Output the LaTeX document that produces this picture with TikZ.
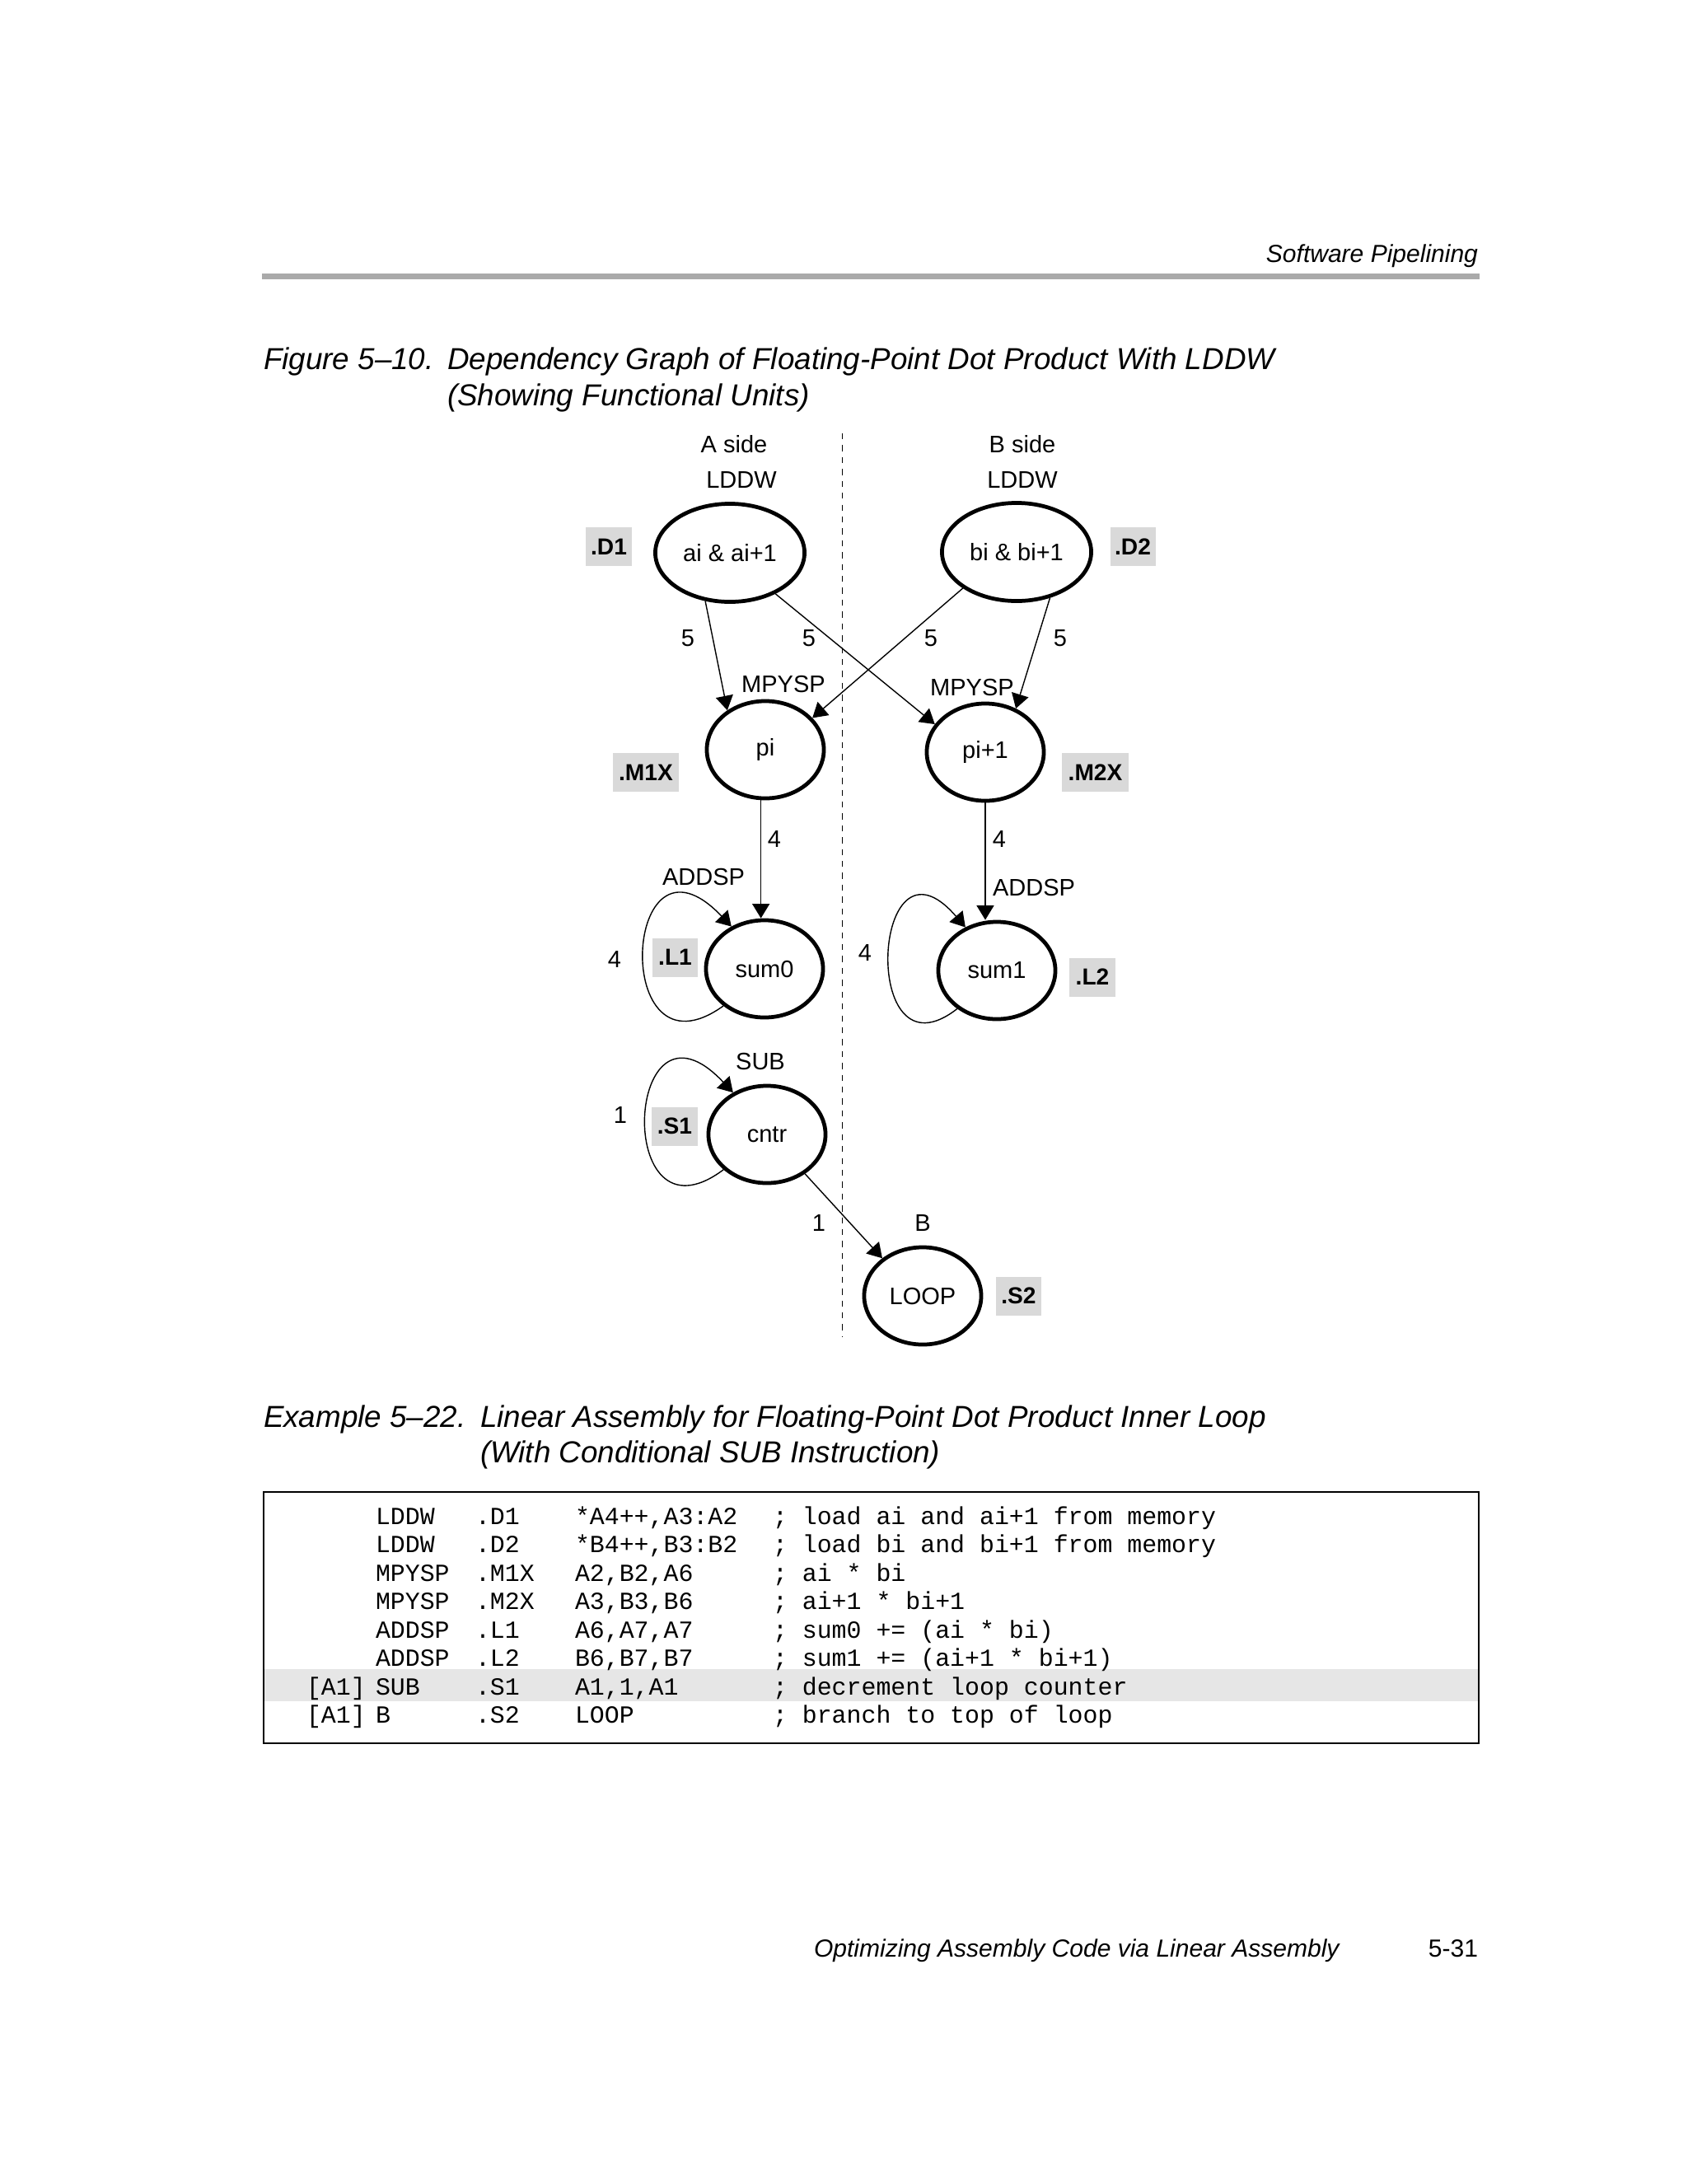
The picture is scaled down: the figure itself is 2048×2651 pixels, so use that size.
\documentclass[tikz,border=0pt]{standalone}
\usepackage{fontspec}
\setmainfont{Liberation Sans}
\setmonofont{Liberation Mono}
\usetikzlibrary{arrows.meta,shapes.geometric,calc}
\definecolor{unitgray}{RGB}{217,217,217}
\definecolor{bandgray}{RGB}{230,230,230}
\definecolor{rulegray}{RGB}{170,170,170}
\newcommand{\codeln}[6]{%
  \node[codetxt] (#2b) at (456,#1) {#3};
  \node[codetxt] (#2c) at (577,#1) {#4};
  \node[codetxt] (#2d) at (698,#1) {#5};
  \node[codetxt] (#2e) at (938,#1) {#6};}
\begin{document}
\begin{tikzpicture}[x=0.01cm,y=-0.01cm,
  every node/.style={inner sep=0pt,outer sep=0pt},
  ell/.style={ellipse,draw,line width=1.35pt,minimum width=1.42cm,minimum height=1.18cm,outer sep=0.68pt,font=\fontsize{8.25pt}{10pt}\selectfont},
  bigell/.style={ell,minimum width=1.81cm,minimum height=1.19cm},
  lbl/.style={font=\fontsize{8.25pt}{10pt}\selectfont},
  unitbox/.style={fill=unitgray,minimum width=0.55cm,minimum height=0.47cm,font=\fontsize{8pt}{10pt}\selectfont\bfseries},
  wideunit/.style={unitbox,minimum width=0.80cm},
  arr/.style={-{Triangle[length=5pt,width=6pt]},line width=0.4pt},
  divider/.style={line width=0.5pt,dash pattern=on 2.1pt off 2pt},
  captxt/.style={anchor=base west,font=\fontsize{10.47pt}{12pt}\selectfont\itshape},
  runtxt/.style={font=\fontsize{8.54pt}{10pt}\selectfont},
  codetxt/.style={anchor=base west,font=\fontsize{8.5pt}{10pt}\selectfont\ttfamily},
]
\fill[white] (0,0) rectangle (2048,2651);
\useasboundingbox (0,0) rectangle (2048,2651);

% running header
\node[runtxt,anchor=base east,font=\fontsize{8.54pt}{10pt}\selectfont\itshape] (hdr) at (1794,318) {Software Pipelining};
\fill[rulegray] (318,331.5) rectangle (1796,338.5);

% figure caption
\node[captxt] (figlab) at (320,448) {Figure 5–10.};
\node[captxt] (figt1) at (543,448) {Dependency Graph of Floating-Point Dot Product With LDDW};
\node[captxt] (figt2) at (543,492) {(Showing Functional Units)};

% divider
\coordinate (dtop) at (1022.5,526);
\coordinate (dbot) at (1022.5,1622);
\draw[divider] (dtop) -- (dbot);

% side labels
\node[lbl] (aside) at (891,539) {A side};
\node[lbl] (bside) at (1241,539) {B side};
\node[lbl] (ldda) at (900,583) {LDDW};
\node[lbl] (lddb) at (1241,583) {LDDW};

% graph nodes
\node[bigell] (ai) at (886,671) {ai \& ai+1};
\node[bigell] (bi) at (1234,670) {bi \& bi+1};
\node[ell] (pi) at (929,910) {pi};
\node[ell] (pj) at (1196,913) {pi+1};
\node[ell] (s0) at (928,1176) {sum0};
\node[ell] (s1) at (1210,1178) {sum1};
\node[ell] (cn) at (931,1377) {cntr};
\node[ell] (lp) at (1120,1573) {LOOP};

% unit boxes
\node[unitbox] (ud1) at (739,663.5) {.D1};
\node[unitbox] (ud2) at (1375,663.5) {.D2};
\node[wideunit] (um1) at (784,937.5) {.M1X};
\node[wideunit] (um2) at (1329.5,937.5) {.M2X};
\node[unitbox] (ul1) at (819.5,1162) {.L1};
\node[unitbox] (ul2) at (1326,1186) {.L2};
\node[unitbox] (us1) at (819,1367) {.S1};
\node[unitbox] (us2) at (1236.5,1573) {.S2};

% instruction labels
\node[lbl] (mpa) at (951,830) {MPYSP};
\node[lbl] (mpb) at (1180,835) {MPYSP};
\node[lbl] (ada) at (854,1064) {ADDSP};
\node[lbl] (adb) at (1255,1077) {ADDSP};
\node[lbl] (sublab) at (923,1288) {SUB};
\node[lbl] (blab) at (1120,1484) {B};

% latency labels
\node[lbl] (la1) at (835,775) {5};
\node[lbl] (la2) at (982,775) {5};
\node[lbl] (la3) at (1130,775) {5};
\node[lbl] (la4) at (1287,775) {5};
\node[lbl] (lb1) at (940,1019) {4};
\node[lbl] (lb2) at (1213,1019) {4};
\node[lbl] (lc1) at (746,1165) {4};
\node[lbl] (lc2) at (1050,1157) {4};
\node[lbl] (ld1) at (753,1354) {1};
\node[lbl] (ld2) at (994,1484) {1};

% edges
\draw[arr] (ai.-117) -- (pi.134);
\draw[arr] (ai.-42) -- (pj.151);
\draw[arr] (bi.-146) -- (pi.34);
\draw[arr] (bi.-54) -- (pj.55);
\draw[arr] (pi.-95) -- (pi.-95 |- s0.north);
\draw[arr] (pj.south) -- (pj.south |- s1.north);
\draw[arr] (cn.-46) -- (lp.137);
\draw[arr] (s0.-138) .. controls ($(s0)+(-188,144)$) and ($(s0)+(-173,-191)$) .. (s0.128);
\draw[arr] (s1.-136) .. controls ($(s1)+(-168,140)$) and ($(s1)+(-152,-185)$) .. (s1.126);
\draw[arr] (cn.-141) .. controls ($(cn)+(-188,144)$) and ($(cn)+(-173,-191)$) .. (cn.129);

% example caption
\node[captxt] (exlab) at (320,1732) {Example 5–22.};
\node[captxt] (ext1) at (583,1732) {Linear Assembly for Floating-Point Dot Product Inner Loop};
\node[captxt] (ext2) at (583,1775) {(With Conditional SUB Instruction)};

% code box
\fill[bandgray] (320,2026) rectangle (1795,2065);
\draw[line width=0.5pt] (320,1811) rectangle (1795,2116);
\codeln{1850}{ka}{LDDW}{.D1}{*A4++,A3:A2}{; load ai and ai+1 from memory}
\codeln{1884.5}{kb}{LDDW}{.D2}{*B4++,B3:B2}{; load bi and bi+1 from memory}
\codeln{1919}{kc}{MPYSP}{.M1X}{A2,B2,A6}{; ai * bi}
\codeln{1953.5}{kd}{MPYSP}{.M2X}{A3,B3,B6}{; ai+1 * bi+1}
\codeln{1988}{ke}{ADDSP}{.L1}{A6,A7,A7}{; sum0 += (ai * bi)}
\codeln{2022.5}{kf}{ADDSP}{.L2}{B6,B7,B7}{; sum1 += (ai+1 * bi+1)}
\codeln{2057}{kg}{SUB}{.S1}{A1,1,A1}{; decrement loop counter}
\codeln{2091.5}{kh}{B}{.S2}{LOOP}{; branch to top of loop}
\node[codetxt] (kga) at (372,2057) {[A1]};
\node[codetxt] (kha) at (372,2091.5) {[A1]};

% footer
\node[runtxt,anchor=base west,font=\fontsize{8.54pt}{10pt}\selectfont\itshape] (ftr) at (988,2375) {Optimizing Assembly Code via Linear Assembly};
\node[runtxt,anchor=base east] (pgno) at (1794,2375) {5-31};
\end{tikzpicture}
\end{document}
